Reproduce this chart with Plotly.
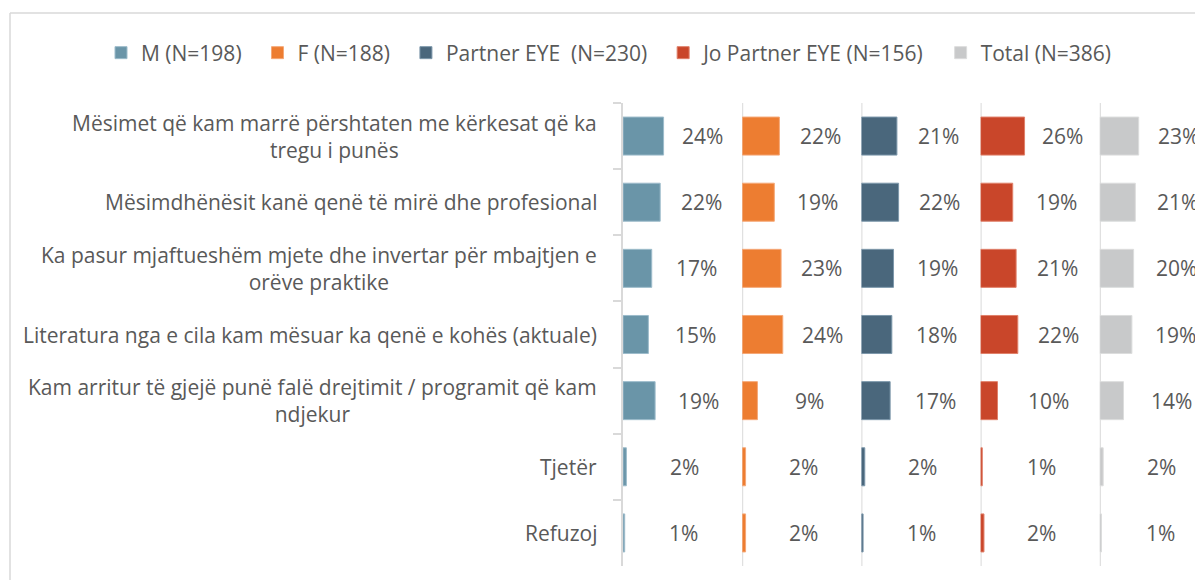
import plotly.graph_objects as go

categories = [
    "Mësimet që kam marrë përshtaten me kërkesat që ka<br>tregu i punës",
    "Mësimdhënësit kanë qenë të mirë dhe profesional",
    "Ka pasur mjaftueshëm mjete dhe invertar për mbajtjen e<br>orëve praktike",
    "Literatura nga e cila kam mësuar ka qenë e kohës (aktuale)",
    "Kam arritur të gjejë punë falë drejtimit / programit që kam<br>ndjekur",
    "Tjetër",
    "Refuzoj",
]
series_names = ["M (N=198)", "F (N=188)", "Partner EYE\u00a0 (N=230)",
                "Jo Partner EYE (N=156)", "Total (N=386)"]
m_vals = [0.24, 0.22, 0.17, 0.15, 0.19, 0.02, 0.01]
f_vals = [0.22, 0.19, 0.23, 0.24, 0.09, 0.02, 0.02]
partner_vals = [0.21, 0.22, 0.19, 0.18, 0.17, 0.02, 0.01]
jo_partner_vals = [0.26, 0.19, 0.21, 0.22, 0.10, 0.01, 0.02]
total_vals = [0.23, 0.21, 0.20, 0.19, 0.14, 0.02, 0.01]

all_vals = [m_vals, f_vals, partner_vals, jo_partner_vals, total_vals]
colors = ["#6a95a8", "#ed7d31", "#4a677c", "#c9462a", "#c8c9ca"]
edge_colors = ["#9dbccb", "#f5a877", "#7d98ab", "#e0806a", "#dcdddd"]

# page body has an 8px margin; figure coordinates = page coordinates - 8
OFF = 8
W, H = 1203 - OFF, 588 - 2 * OFF
L, T = 623 - OFF, 103 - OFF
B = H - (566 - OFF)
PW = W - L
PH = H - T - B
panel_px = 119.2
full_range = 0.705
px_per_unit = panel_px / full_range

FONT = "Open Sans"
TXT = "#595959"
GRID = "#d9d9d9"
FS = 21


def px_x(page_x):
    return (page_x - OFF - L) / PW


def px_y(page_y):
    return (H - B - (page_y - OFF)) / PH


fig = go.Figure()
layout_axes = {}
shapes = []
annotations = []
for i, (name, vals, col, ecol) in enumerate(zip(series_names, all_vals, colors, edge_colors)):
    ax = "x" if i == 0 else f"x{i+1}"
    axkey = "xaxis" if i == 0 else f"xaxis{i+1}"
    start = i * panel_px
    end = PW if i == 4 else (i + 1) * panel_px
    rng = (end - start) / px_per_unit
    layout_axes[axkey] = dict(domain=[start / PW, end / PW], range=[0, rng],
                              visible=False, fixedrange=True, anchor="y")
    fig.add_trace(go.Bar(
        orientation="h", x=vals, y=categories, name=name + "\u00a0\u00a0",
        xaxis=ax, yaxis="y",
        marker=dict(color=col, line=dict(color=ecol, width=1)),
        hoverinfo="skip",
    ))
    if i > 0:
        shapes.append(dict(type="line", xref=ax, yref="paper", x0=0, x1=0, y0=0, y1=1,
                           line=dict(color=GRID, width=2), layer="below"))
    for c, v in zip(categories, vals):
        annotations.append(dict(xref=ax, yref="y", x=(v + full_range) / 2, y=c,
                                text=f"{round(v*100)}%", showarrow=False,
                                xanchor="center", yanchor="middle",
                                font=dict(family=FONT, size=FS, color=TXT)))

for c in categories:
    annotations.append(dict(xref="paper", yref="y", x=px_x(599), y=c, text=c,
                            showarrow=False, xanchor="right", yanchor="middle",
                            align="center", font=dict(family=FONT, size=FS, color=TXT)))

# outer chart border (top and left)
shapes.append(dict(type="line", xref="paper", yref="paper",
                   x0=px_x(10), x1=px_x(1215), y0=px_y(13), y1=px_y(13),
                   line=dict(color=GRID, width=1.5)))
shapes.append(dict(type="line", xref="paper", yref="paper",
                   x0=px_x(10), x1=px_x(10), y0=px_y(13), y1=px_y(600),
                   line=dict(color=GRID, width=1.5)))

fig.update_layout(
    width=W, height=H,
    margin=dict(l=L, r=0, t=T, b=B, pad=0),
    paper_bgcolor="white", plot_bgcolor="white",
    barmode="group", bargap=0.425,
    showlegend=True,
    legend=dict(orientation="h", x=px_x(101), xanchor="left",
                y=px_y(53), yanchor="middle",
                font=dict(family=FONT, size=FS, color=TXT),
                bgcolor="rgba(0,0,0,0)"),
    yaxis=dict(type="category", categoryorder="array", categoryarray=categories,
               autorange="reversed", showticklabels=False, showgrid=False,
               zeroline=False, showline=True, linecolor=GRID, linewidth=2,
               ticks="outside", tickson="boundaries", ticklen=8,
               tickcolor=GRID, tickwidth=2, fixedrange=True),
    shapes=shapes,
    annotations=annotations,
    **layout_axes,
)

fig.write_html("out.html")
